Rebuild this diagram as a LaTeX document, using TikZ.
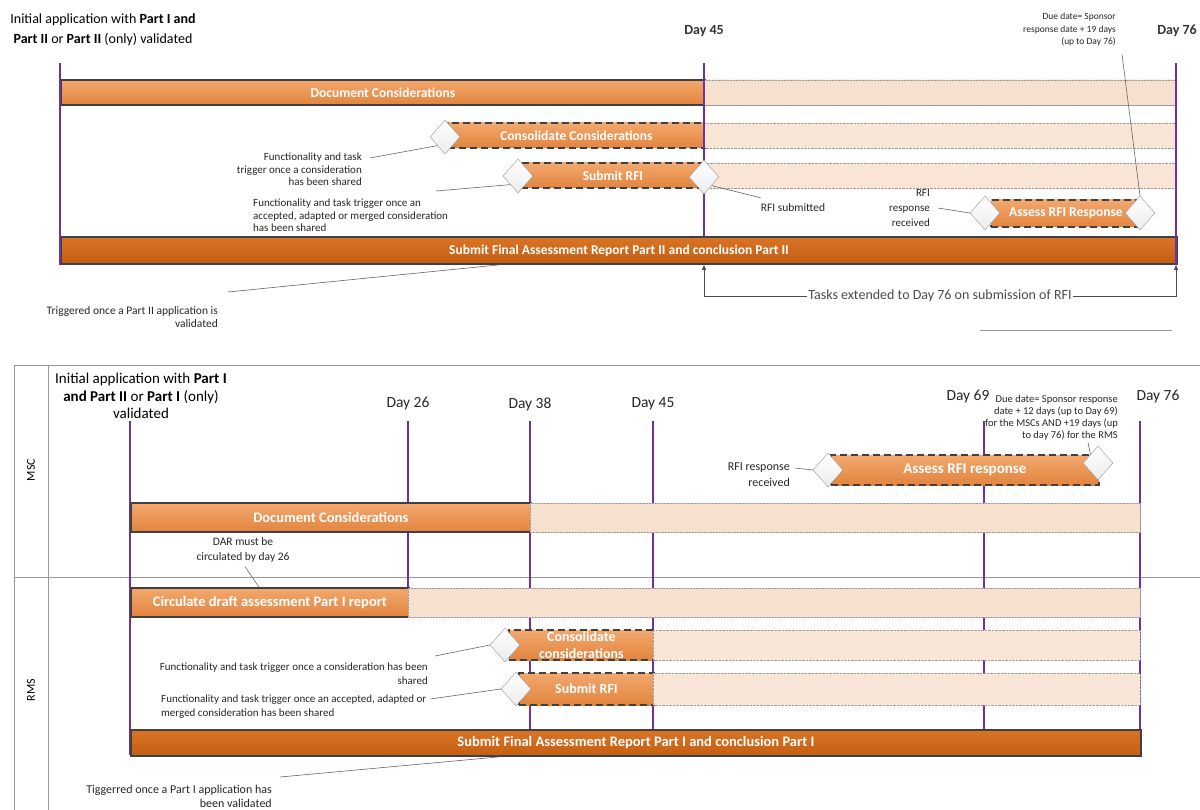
\documentclass[tikz,border=0pt]{standalone}
\usepackage{fontspec}
\setmainfont{Carlito}
\usetikzlibrary{shapes.geometric,arrows.meta,patterns,calc}
\definecolor{dayline}{HTML}{7030A0}
\definecolor{taskhi}{HTML}{F2A86E}
\definecolor{tasklo}{HTML}{E2843E}
\definecolor{finalhi}{HTML}{D97425}
\definecolor{finallo}{HTML}{C45F12}
\definecolor{peach}{HTML}{FBE8DA}
\definecolor{hatch}{HTML}{F3D2B8}
\definecolor{barline}{HTML}{404040}

\begin{document}
\begin{tikzpicture}[x=1pt, y=-1pt,
  task/.style={rectangle, draw=barline, line width=1.8pt, top color=taskhi, bottom color=tasklo, text=white, font=\fontsize{13.5}{15}\selectfont\bfseries, inner sep=0pt, anchor=west},
  opttask/.style={task, dash pattern=on 7pt off 4pt},
  finaltask/.style={task, top color=finalhi, bottom color=finallo},
  ext/.style={rectangle, draw=gray!80, fill=peach, postaction={pattern=north east lines, pattern color=hatch}, inner sep=0pt, anchor=west},
  optext/.style={ext, densely dotted},
  mile/.style={diamond, draw=gray!80, top color=white, bottom color=gray!15, minimum width=30pt, minimum height=34pt, inner sep=0pt},
  day/.style={draw=dayline, line width=2pt},
  note/.style={font=\fontsize{11}{12.5}\selectfont, text=black!85, inner sep=0pt},
  smallnote/.style={note, font=\fontsize{9.5}{12.5}\selectfont},
  daylabel/.style={font=\fontsize{14}{16}\selectfont\bfseries, text=black!80},
  daylabelb/.style={font=\fontsize{15.5}{17}\selectfont, text=black!85},
  callout/.style={draw=black!60, line width=0.6pt},
  lane/.style={draw=gray!80, line width=0.8pt}
]
\path[use as bounding box, clip] (0,0) rectangle (1200,810);

% ---------- Part II timeline ----------
\node[font=\fontsize{14}{20}\selectfont, align=center] (init2) at (103,30) {Initial application with \textbf{Part I and}\\\textbf{Part II} or \textbf{Part II} (only) validated};
\node[daylabel] (d45a) at (704,31) {Day 45};
\node[daylabel] (d76a) at (1177,31) {Day 76};

\node[task, minimum width=644, minimum height=25] (doc2) at (60,92.5) {Document Considerations};
\node[ext, minimum width=472, minimum height=25] (doc2x) at (704,92.5) {};
\node[opttask, minimum width=257, minimum height=25] (cons2) at (447,135.5) {Consolidate Considerations};
\node[optext, minimum width=472, minimum height=25] (cons2x) at (704,135.5) {};
\node[opttask, minimum width=184, minimum height=25] (rfi2) at (520,175.5) {Submit RFI};
\node[optext, minimum width=472, minimum height=25] (rfi2x) at (704,175.5) {};
\node[opttask, minimum width=150, minimum height=27] (assess2) at (990,213.5) {Assess RFI Response};
\node[finaltask, minimum width=1116, minimum height=27] (final2) at (60,250.5) {Submit Final Assessment Report Part II and conclusion Part II};

\draw[day] (60,63) -- (60,265);
\draw[day] (704,63) -- (704,237);
\draw[day] (1176,63) -- (1176,265);

\node[mile] (cons2d) at (445,137) {};
\node[mile] (rfi2d) at (518,176) {};
\node[mile] (rfi2e) at (704,177) {};
\node[mile] (assess2d) at (985,213) {};
\node[mile] (assess2e) at (1140,213) {};

\node[note, align=right, anchor=north east] (trigcons2) at (362,153) {Functionality and task\\trigger once a consideration\\has been shared};
\node[note, align=left, anchor=north west] (trigrfi2) at (253,199) {Functionality and task trigger once an\\accepted, adapted or merged consideration\\has been shared};
\node[note, font=\fontsize{11.5}{13}\selectfont] (rfisub) at (793,208) {RFI submitted};
\node[note, align=right, anchor=east, font=\fontsize{11}{15}\selectfont] (rfirec2) at (930,208) {RFI\\response\\received};
\node[smallnote, align=right, anchor=north east] (due2) at (1116,13) {Due date= Sponsor\\response date + 19 days\\(up to Day 76)};
\node[note, align=right, anchor=north east, font=\fontsize{11.5}{13}\selectfont] (trig2) at (218,306) {Triggered once a Part II application is\\validated};

\draw[callout] ([shift={(8,5)}]trigcons2.north east) -- (cons2d.south west);
\draw[callout] ([shift={(-12,-8)}]trigrfi2.north east) -- (rfi2d.south west);
\draw[callout] ([shift={(0,-6)}]rfisub.north west) -- (rfi2e.south east);
\draw[callout] ([xshift=8pt]rfirec2.east) -- (assess2d.west);
\draw[callout] ([shift={(6,8)}]due2.south east) -- (assess2e.north);
\draw[callout] ([shift={(10,-14)}]trig2.north east) -- ([xshift=-120pt]final2.south);

\coordinate (extl) at (704,296);
\coordinate (extr) at (1176,296);
\draw[black!70, line width=0.7pt, {Triangle[length=5pt,width=4pt]}-{Triangle[length=5pt,width=4pt]}]
  (extl |- final2.south) -- (extl) -- node[fill=white, inner sep=1pt, font=\fontsize{14}{16}\selectfont] (extlbl) {Tasks extended to Day 76 on submission of RFI} (extr) -- (extr |- final2.south);
\draw[gray!80, line width=0.8pt] (980,330) -- (1172,330);

% ---------- Part I swimlanes ----------
\draw[lane] (14,365) -- (1200,365);
\draw[lane] (14,577) -- (1200,577);
\draw[lane] (14,365) -- (14,810);
\draw[lane] (48,365) -- (48,810);
\node[rotate=90, font=\fontsize{12}{14}\selectfont] (msc) at (31,470) {MSC};
\node[rotate=90, font=\fontsize{12}{14}\selectfont] (rms) at (31,690) {RMS};

\node[font=\fontsize{15}{17.5}\selectfont, align=center] (init1) at (141,396) {Initial application with \textbf{Part I}\\\textbf{and Part II} or \textbf{Part I} (only)\\validated};
\node[daylabelb] (d26) at (408,404) {Day 26};
\node[daylabelb] (d38) at (530,404) {Day 38};
\node[daylabelb] (d45b) at (653,404) {Day 45};
\node[daylabelb] (d69) at (968,397) {Day 69};
\node[daylabelb] (d76b) at (1158,397) {Day 76};

\foreach \dx/\dy in {130/755, 408/617, 530/730, 653/730, 984/730, 1140/755}
  \draw[day] (\dx,421) -- (\dx,\dy);

\node[opttask, minimum width=268, minimum height=30, font=\fontsize{15}{17}\selectfont\bfseries] (assess1) at (830,470) {Assess RFI response};
\node[task, minimum width=400, minimum height=29, font=\fontsize{14.5}{16}\selectfont\bfseries] (doc1) at (130,517.5) {Document Considerations};
\node[ext, minimum width=610, minimum height=29] (doc1x) at (530,517.5) {};
\node[task, minimum width=278, minimum height=29, font=\fontsize{14.5}{16}\selectfont\bfseries] (circ) at (130,602.5) {Circulate draft assessment Part I report};
\node[ext, minimum width=732, minimum height=29] (circx) at (408,602.5) {};
\node[opttask, minimum width=145, minimum height=30, align=center, font=\fontsize{14}{17}\selectfont\bfseries] (cons1) at (508,645) {Consolidate\\considerations};
\node[optext, minimum width=487, minimum height=30] (cons1x) at (653,645) {};
\node[opttask, minimum width=135, minimum height=32, font=\fontsize{14}{16}\selectfont\bfseries] (rfi1) at (518,689) {Submit RFI};
\node[optext, minimum width=487, minimum height=32] (rfi1x) at (653,689) {};
\node[finaltask, minimum width=1010, minimum height=26, font=\fontsize{14.5}{16}\selectfont\bfseries] (final1) at (130,743) {Submit Final Assessment Report Part I and conclusion Part I};

\node[mile] (assess1d) at (828,470) {};
\node[mile] (assess1e) at (1098,463) {};
\node[mile] (cons1d) at (505,645) {};
\node[mile] (rfi1d) at (516,689) {};

\node[note, font=\fontsize{12}{16}\selectfont, align=right, anchor=north east] (rfirec1) at (790,463) {RFI response\\received};
\node[smallnote, font=\fontsize{10.5}{12}\selectfont, align=right, anchor=north east] (due1) at (1118,395) {Due date= Sponsor response\\date + 12 days (up to Day 69)\\for the MSCs AND +19 days (up\\to day 76) for the RMS};
\node[note, font=\fontsize{11.5}{15}\selectfont, align=center] (dar) at (243,550) {DAR must be\\circulated by day 26};
\node[note, font=\fontsize{11}{14}\selectfont, align=right, anchor=north east] (trigcons1) at (428,663) {Functionality and task trigger once a consideration has been\\shared};
\node[note, font=\fontsize{11}{14}\selectfont, align=left, anchor=north west] (trigrfi1) at (161,695) {Functionality and task trigger once an accepted, adapted or\\merged consideration has been shared};
\node[note, font=\fontsize{12}{13.5}\selectfont, align=right, anchor=north east] (trig1) at (272,785) {Tiggerred once a Part I application has\\been validated};

\draw[callout] ([shift={(5,5)}]rfirec1.north east) -- (assess1d.west);
\draw[callout] ([shift={(-30,2)}]due1.south east) -- (assess1e.north west);
\draw[callout] ([shift={(2,4)}]dar.south) -- ([xshift=-11pt]circ.north);
\draw[callout] ([shift={(7,-7)}]trigcons1.north east) -- (cons1d.west);
\draw[callout] ([shift={(4,4)}]trigrfi1.north east) -- (rfi1d.west);
\draw[callout] ([shift={(8,-8)}]trig1.north east) -- ([xshift=-137pt]final1.south);
\end{tikzpicture}
\end{document}
